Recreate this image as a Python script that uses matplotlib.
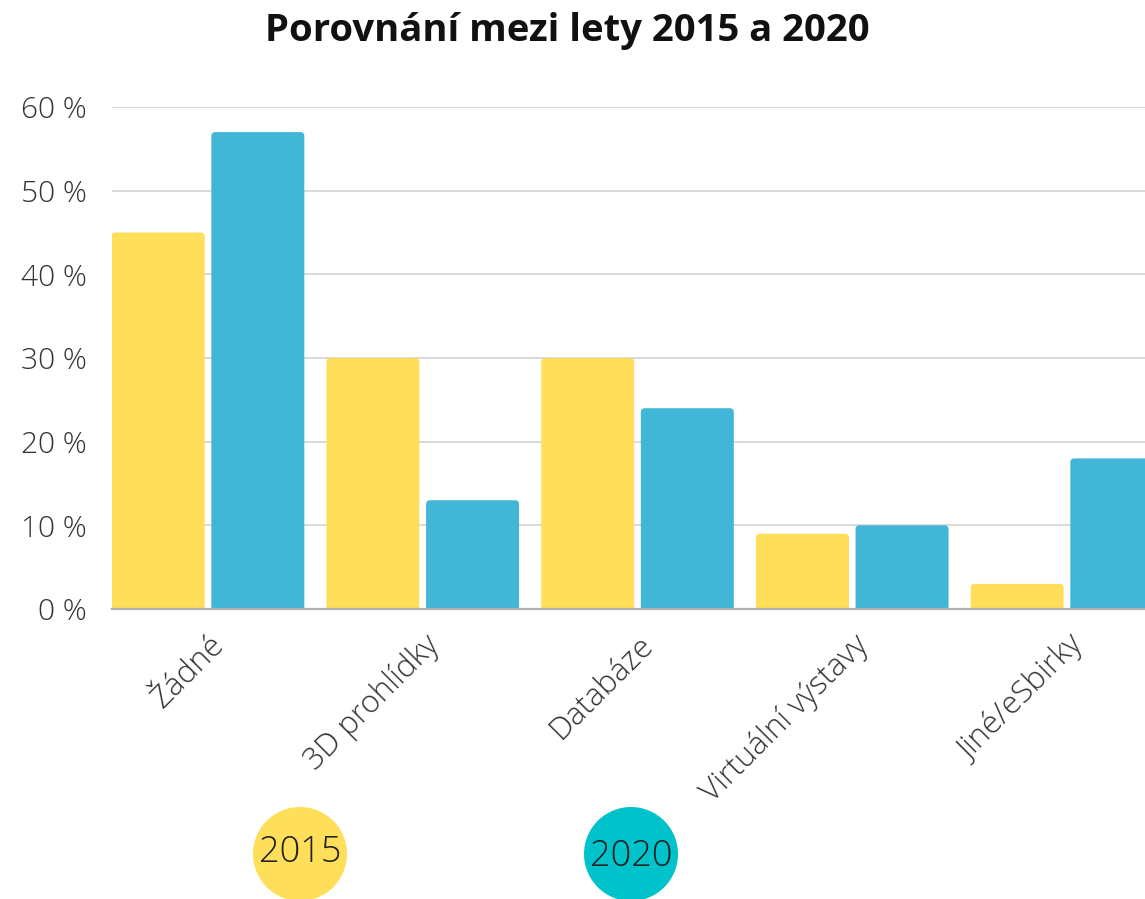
import matplotlib
matplotlib.use("Agg")
import matplotlib.pyplot as plt
from matplotlib.patches import FancyBboxPatch, Circle
import matplotlib.transforms as mtransforms
import numpy as np

categories = ["Žádné", "3D prohlídky", "Databáze", "Virtuální výstavy", "Jiné/eSbirky"]
values_2015 = [45, 30, 30, 9, 3]
values_2020 = [57, 13, 24, 10, 18]
series_labels = ["2015", "2020"]
yticks = [0, 10, 20, 30, 40, 50, 60]
ytick_labels = [f"{v} %" for v in yticks]

YELLOW = "#FFDE59"
BLUE = "#41B6D6"
TEAL = "#00C2CB"
TEXT = "#333333"

plt.rcParams['font.family'] = ['Open Sans', 'DejaVu Sans']

W, H = 1145, 899
fig = plt.figure(figsize=(W / 100, H / 100), dpi=100)

# axes geometry in pixels
ax_left, ax_right = 112, 112 + 5 * 214.75
ax_bottom, ax_top = 609, 107
ax = fig.add_axes([ax_left / W, (H - ax_bottom) / H, (ax_right - ax_left) / W, (ax_bottom - ax_top) / H])
ax.set_xlim(-0.447, -0.447 + 5.0)
ax.set_ylim(0, 60)

x = np.arange(len(categories))
offset = 0.232
width = 0.433

px_x = 5.0 / (ax_right - ax_left)
px_y = 60.0 / (ax_bottom - ax_top)
r = 4 * px_x
aspect = px_y / px_x

for vals, col, sgn in [(values_2015, YELLOW, -1), (values_2020, BLUE, 1)]:
    bars = ax.bar(x + sgn * offset, vals, width=width, color=col, alpha=0)
    for b in bars:
        x0 = b.get_x()
        h = b.get_height()
        p = FancyBboxPatch((x0, -2), b.get_width(), h + 2,
                           boxstyle=f"round,pad=0,rounding_size={r}",
                           mutation_aspect=aspect, facecolor=col, edgecolor='none',
                           zorder=3)
        ax.add_patch(p)

ax.set_yticks(yticks)
ax.set_yticklabels(ytick_labels, fontsize=21.5, color=TEXT, fontweight='light')
ax.tick_params(axis='y', length=0, pad=18)
ax.grid(axis='y', color='#d9d9d9', linewidth=1.4, zorder=0)
ax.set_axisbelow(True)
for s in ['top', 'right', 'left']:
    ax.spines[s].set_visible(False)
ax.spines['bottom'].set_color('#b0b0b0')
ax.spines['bottom'].set_linewidth(1.6)
ax.spines['bottom'].set_zorder(4)

ax.set_xticks(x)
ax.set_xticklabels(categories, rotation=45, ha='right', va='center', rotation_mode='anchor',
                   fontsize=22.5, color=TEXT, fontweight='light')
ax.tick_params(axis='x', length=0, pad=30)
shift = mtransforms.ScaledTranslation(12 / 100, 10 / 100, fig.dpi_scale_trans)
for lab in ax.get_xticklabels():
    lab.set_transform(lab.get_transform() + shift)

fig.text(567 / W, 1 - 31 / H, "Porovnání mezi lety 2015 a 2020", ha='center', va='center',
         fontsize=27.5, fontweight='bold', color='#111111')

# legend overlay in pixel coordinates
ov = fig.add_axes([0, 0, 1, 1], facecolor='none')
ov.set_xlim(0, W)
ov.set_ylim(H, 0)
ov.axis('off')
for (cx, cy), col, lab, ty in [((300, 854), YELLOW, series_labels[0], 852),
                               ((631, 854), TEAL, series_labels[1], 857)]:
    ov.add_patch(Circle((cx, cy), 47, facecolor=col, edgecolor='none'))
    ov.text(cx, ty, lab, ha='center', va='center', fontsize=26, color='#222222',
            fontweight='light')

fig.savefig("out.png", dpi=100)
